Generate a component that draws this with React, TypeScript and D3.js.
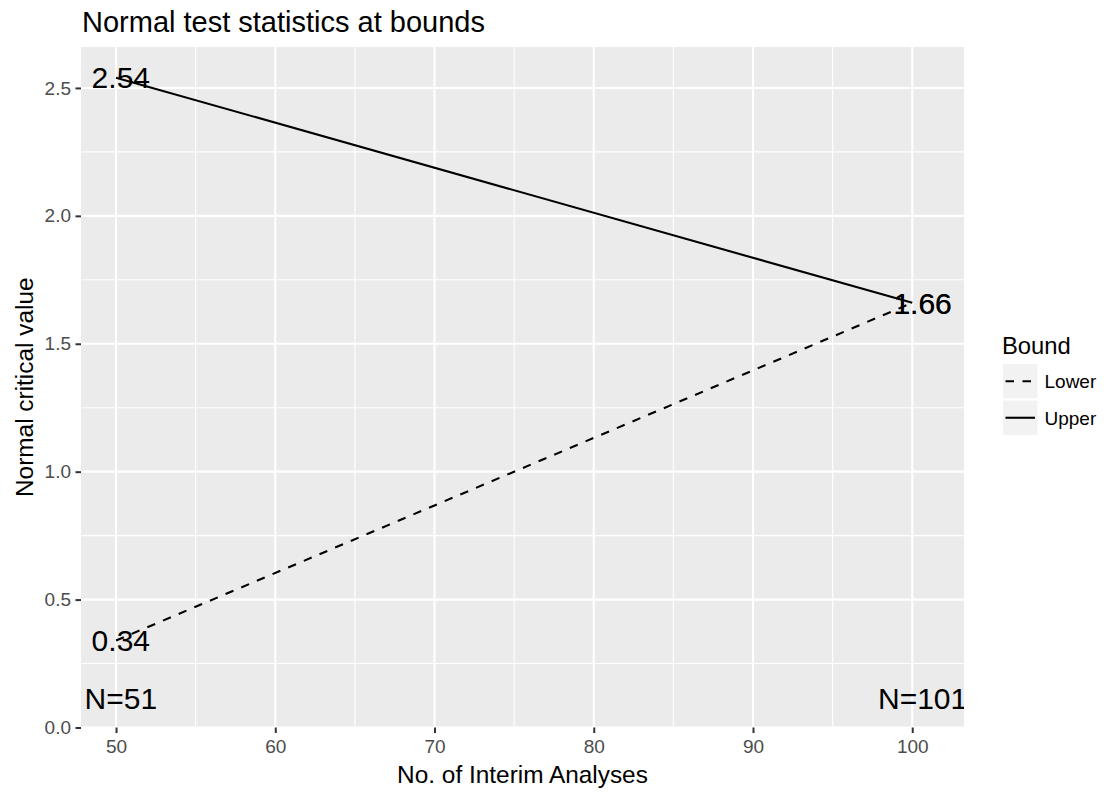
import React, { useRef, useEffect } from 'react';
import * as d3 from 'd3';

// chart values
const analyses = [50, 100];
const upperBound = [2.54, 1.66];
const lowerBound = [0.34, 1.66];
const labelX = [50.3, 100.65];
const sampleLabels = ['N=51', 'N=101'];
const sampleLabelY = 0.115;
const xTicks = [50, 60, 70, 80, 90, 100];
const yTicks = [0, 0.5, 1, 1.5, 2, 2.5];
const bounds = ['Lower', 'Upper'];

const FONT = '"Liberation Sans", Arial, Helvetica, sans-serif';

function BoundsChart() {
  const svgRef = useRef<SVGSVGElement>(null);

  useEffect(() => {
    const svg = d3.select(svgRef.current);
    svg.selectAll('*').remove();

    const width = 1106;
    const height = 792;
    const panel = { left: 81, right: 964, top: 47, bottom: 727.5 };

    const x = d3.scaleLinear().domain([47.8, 103.25]).range([panel.left, panel.right]);
    const y = d3.scaleLinear().domain([0, 2.66]).range([panel.bottom, panel.top]);

    svg.attr('font-family', FONT);

    svg.append('rect')
      .attr('width', width).attr('height', height).attr('fill', '#fff');

    // panel background
    svg.append('rect')
      .attr('x', panel.left).attr('y', panel.top)
      .attr('width', panel.right - panel.left).attr('height', panel.bottom - panel.top)
      .attr('fill', '#EBEBEB');

    const mid = (t: number[]) => t.slice(1).map((v, i) => (v + t[i]) / 2);
    const xMinor = mid(xTicks);
    const yMinor = mid(yTicks);

    const grid = svg.append('g');
    grid.selectAll('.xminor').data(xMinor).enter().append('line')
      .attr('x1', d => x(d)).attr('x2', d => x(d))
      .attr('y1', panel.top).attr('y2', panel.bottom)
      .attr('stroke', '#fff').attr('stroke-width', 1.1);
    grid.selectAll('.yminor').data(yMinor).enter().append('line')
      .attr('y1', d => y(d)).attr('y2', d => y(d))
      .attr('x1', panel.left).attr('x2', panel.right)
      .attr('stroke', '#fff').attr('stroke-width', 1.1);
    grid.selectAll('.xmajor').data(xTicks).enter().append('line')
      .attr('x1', d => x(d)).attr('x2', d => x(d))
      .attr('y1', panel.top).attr('y2', panel.bottom)
      .attr('stroke', '#fff').attr('stroke-width', 2.1);
    grid.selectAll('.ymajor').data(yTicks).enter().append('line')
      .attr('y1', d => y(d)).attr('y2', d => y(d))
      .attr('x1', panel.left).attr('x2', panel.right)
      .attr('stroke', '#fff').attr('stroke-width', 2.1);

    // axes
    const xAxis = d3.axisBottom(x).tickValues(xTicks).tickSize(5.5).tickPadding(7).tickFormat(d3.format('d'));
    const yAxis = d3.axisLeft(y).tickValues(yTicks).tickSize(5.5).tickPadding(4.5).tickFormat(d3.format('.1f'));

    const gx = svg.append('g')
      .attr('transform', `translate(0,${panel.bottom})`)
      .call(xAxis);
    const gy = svg.append('g')
      .attr('transform', `translate(${panel.left},0)`)
      .call(yAxis);
    [gx, gy].forEach(g => {
      g.select('.domain').remove();
      g.selectAll('.tick line').attr('stroke', '#333').attr('stroke-width', 2);
      g.selectAll('.tick text')
        .attr('fill', '#4D4D4D')
        .attr('font-size', 19)
        .attr('font-family', FONT);
    });

    svg.append('clipPath').attr('id', 'panel-clip')
      .append('rect')
      .attr('x', panel.left).attr('y', panel.top)
      .attr('width', panel.right - panel.left).attr('height', panel.bottom - panel.top);

    const plot = svg.append('g').attr('clip-path', 'url(#panel-clip)');

    const line = d3.line<number>()
      .x((_, i) => x(analyses[i]))
      .y(d => y(d));

    plot.append('path')
      .datum(lowerBound)
      .attr('fill', 'none')
      .attr('stroke', '#000')
      .attr('stroke-width', 2.1)
      .attr('stroke-dasharray', '8.5,8.5')
      .attr('d', line);

    plot.append('path')
      .datum(upperBound)
      .attr('fill', 'none')
      .attr('stroke', '#000')
      .attr('stroke-width', 2.1)
      .attr('d', line);

    // value labels at both ends of both lines
    const valueLabels = [
      ...upperBound.map((v, i) => ({ x: labelX[i], y: v, text: v.toFixed(2) })),
      ...lowerBound.map((v, i) => ({ x: labelX[i], y: v, text: v.toFixed(2) })),
      ...sampleLabels.map((t, i) => ({ x: labelX[i], y: sampleLabelY, text: t })),
    ];
    plot.selectAll('.vlabel').data(valueLabels).enter().append('text')
      .attr('x', d => x(d.x))
      .attr('y', d => y(d.y))
      .attr('dy', '0.36em')
      .attr('text-anchor', 'middle')
      .attr('font-size', 30)
      .attr('fill', '#000')
      .text(d => d.text);

    // title and axis titles
    svg.append('text')
      .attr('x', 82).attr('y', 32)
      .attr('font-size', 29)
      .attr('fill', '#000')
      .text('Normal test statistics at bounds');

    svg.append('text')
      .attr('x', (panel.left + panel.right) / 2).attr('y', 783)
      .attr('text-anchor', 'middle')
      .attr('font-size', 24.4)
      .attr('fill', '#000')
      .text('No. of Interim Analyses');

    svg.append('text')
      .attr('transform', `translate(33,${(panel.top + panel.bottom) / 2}) rotate(-90)`)
      .attr('text-anchor', 'middle')
      .attr('font-size', 24.4)
      .attr('fill', '#000')
      .text('Normal critical value');

    // legend
    const legend = svg.append('g').attr('transform', 'translate(1002,0)');
    legend.append('text')
      .attr('x', 0).attr('y', 354)
      .attr('font-size', 23.8)
      .attr('fill', '#000')
      .text('Bound');

    const keySize = 36.5;
    const keyTop = 363;
    const keys = legend.selectAll('.key').data(bounds).enter().append('g')
      .attr('transform', (_, i) => `translate(0,${keyTop + i * keySize})`);
    keys.append('rect')
      .attr('width', keySize).attr('height', keySize)
      .attr('fill', '#F2F2F2').attr('stroke', '#fff').attr('stroke-width', 2);
    keys.append('line')
      .attr('x1', 3.5).attr('x2', keySize - 3.5)
      .attr('y1', keySize / 2).attr('y2', keySize / 2)
      .attr('stroke', '#000').attr('stroke-width', 2.1)
      .attr('stroke-dasharray', d => (d === 'Lower' ? '8.5,8.5' : null));
    keys.append('text')
      .attr('x', keySize + 6).attr('y', keySize / 2)
      .attr('dy', '0.36em')
      .attr('font-size', 19)
      .attr('fill', '#000')
      .text(d => d);
  }, []);

  return <svg ref={svgRef} width={1106} height={792} style={{ position: 'absolute', left: 0, top: 0 }} />;
}

export default function App() {
  return <BoundsChart />;
}
